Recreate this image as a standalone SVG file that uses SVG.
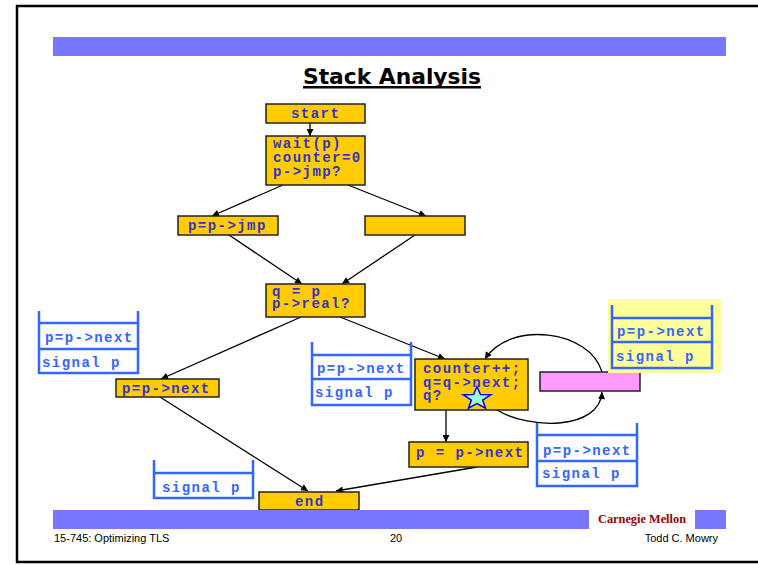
<svg xmlns="http://www.w3.org/2000/svg" width="758" height="565" viewBox="0 0 758 565">
<style>
.box{fill:#ffcc00;stroke:#222;stroke-width:1.5}
.nt{font-family:"Liberation Mono",monospace;font-weight:bold;font-size:14px;letter-spacing:1.45px;fill:#3333cc}
.st{font-family:"Liberation Mono",monospace;font-weight:bold;font-size:14px;letter-spacing:1.45px;fill:#3366ff}
.sl{fill:none;stroke:#3366ff;stroke-width:2.5}
.cn{fill:none;stroke:#000;stroke-width:1.3;marker-end:url(#ah)}
.ft{font-family:"Liberation Sans",sans-serif;font-size:11px;fill:#000}
</style>
<defs>
<marker id="ah" viewBox="0 0 10 10" refX="10" refY="5" markerWidth="8" markerHeight="7" orient="auto" markerUnits="userSpaceOnUse">
<path d="M0,0 L10,5 L0,10 z" fill="#000"/>
</marker>
</defs>
<rect x="0" y="0" width="758" height="565" fill="#fff"/>
<rect x="17" y="6" width="760" height="556" fill="none" stroke="#000" stroke-width="2.5"/>
<rect x="53" y="37" width="673" height="19" fill="#7777ff"/>
<text x="392" y="84" text-anchor="middle" font-family="'Comic Sans MS','DejaVu Sans',sans-serif" font-weight="bold" font-size="21px" textLength="178" lengthAdjust="spacingAndGlyphs" fill="#000">Stack Analysis</text>
<rect x="303" y="86" width="178" height="2.5" fill="#000"/>

<g id="connectors">
<path class="cn" d="M310,123 L310,136"/>
<path class="cn" d="M283,185 L212,216"/>
<path class="cn" d="M348,185 L426,216"/>
<path class="cn" d="M229,235 L302,284"/>
<path class="cn" d="M415,235 L342,284"/>
<path class="cn" d="M301,317 L161,379"/>
<path class="cn" d="M340,317 L445,359"/>
<path class="cn" d="M446,410 L446,442"/>
<path class="cn" d="M160,397 L308,491"/>
<path class="cn" d="M477,467 L336,491"/>
<path class="cn" d="M602,372 C590,330 510,320 485,359"/>
<path class="cn" d="M497,410 C530,430 600,430 602,392"/>
</g>

<g id="start"><rect class="box" x="266" y="104" width="99" height="19"/><text class="nt" x="291" y="118">start</text></g>
<g id="wait"><rect class="box" x="266" y="136" width="99" height="49"/>
<text class="nt" x="273" y="148">wait(p)</text><text class="nt" x="273" y="162">counter=0</text><text class="nt" x="273" y="176">p-&gt;jmp?</text></g>
<g id="jmp"><rect class="box" x="178" y="216" width="100" height="19"/><text class="nt" x="188" y="230">p=p-&gt;jmp</text></g>
<g id="empty"><rect class="box" x="365" y="216" width="100" height="19"/></g>
<g id="qp"><rect class="box" x="266" y="284" width="99" height="33"/>
<text class="nt" x="272" y="296">q = p</text><text class="nt" x="272" y="308">p-&gt;real?</text></g>
<g id="leftnext"><rect class="box" x="116" y="379" width="103" height="18"/><text class="nt" x="122" y="393">p=p-&gt;next</text></g>
<g id="counter"><rect class="box" x="415" y="359" width="113" height="51"/>
<text class="nt" x="423" y="373">counter++;</text><text class="nt" x="423" y="387">q=q-&gt;next;</text><text class="nt" x="423" y="400">q?</text>
<polygon points="477,386.5 480.5,394.5 490.8,394.8 482.7,400 485.5,408.2 477,403.5 468.5,408.2 471.3,400 463.2,394.8 473.5,394.5" fill="#99ffcc" stroke="#0000ff" stroke-width="1.5"/></g>
<g id="pink"><rect x="540" y="372" width="100" height="19" fill="#ff99ff" stroke="#222" stroke-width="1.5"/></g>
<g id="pnext"><rect class="box" x="409" y="442" width="119" height="25"/><text class="nt" x="416" y="457">p = p-&gt;next</text></g>
<g id="end"><rect class="box" x="259" y="492" width="100" height="18"/><text class="nt" x="295" y="506">end</text></g>

<g id="stack-left">
<path class="sl" d="M39,311 V373 H138 V311 M39,323 H138 M39,349 H138"/>
<text class="st" x="45" y="342">p=p-&gt;next</text><text class="st" x="42" y="367">signal p</text></g>
<g id="stack-mid">
<path class="sl" d="M312,342 V405 H411 V342 M312,355 H411 M312,379 H411"/>
<text class="st" x="317" y="373">p=p-&gt;next</text><text class="st" x="315" y="397">signal p</text></g>
<g id="stack-right">
<rect x="608" y="299" width="113" height="74" fill="#ffff99"/>
<path class="sl" d="M612,305 V368 H712 V305 M612,318 H712 M612,342 H712"/>
<text class="st" x="617" y="336">p=p-&gt;next</text><text class="st" x="616" y="361">signal p</text></g>
<g id="stack-bottomright">
<path class="sl" d="M537,423 V486 H637 V423 M537,435 H637 M537,461 H637"/>
<text class="st" x="543" y="455">p=p-&gt;next</text><text class="st" x="542" y="478">signal p</text></g>
<g id="stack-bottomleft">
<path class="sl" d="M154,460 V498 H253 V460 M154,473 H253"/>
<text class="st" x="162" y="492">signal p</text></g>

<rect x="53" y="510" width="536" height="19" fill="#7777ff"/>
<rect x="695" y="510" width="31" height="19" fill="#7777ff"/>
<text x="642" y="523" text-anchor="middle" font-family="'Liberation Serif',serif" font-weight="bold" font-size="13px" fill="#990000" textLength="88" lengthAdjust="spacingAndGlyphs">Carnegie Mellon</text>
<text class="ft" x="54" y="542">15-745: Optimizing TLS</text>
<text class="ft" x="396" y="542" text-anchor="middle">20</text>
<text class="ft" x="718" y="542" text-anchor="end">Todd C. Mowry</text>
</svg>
